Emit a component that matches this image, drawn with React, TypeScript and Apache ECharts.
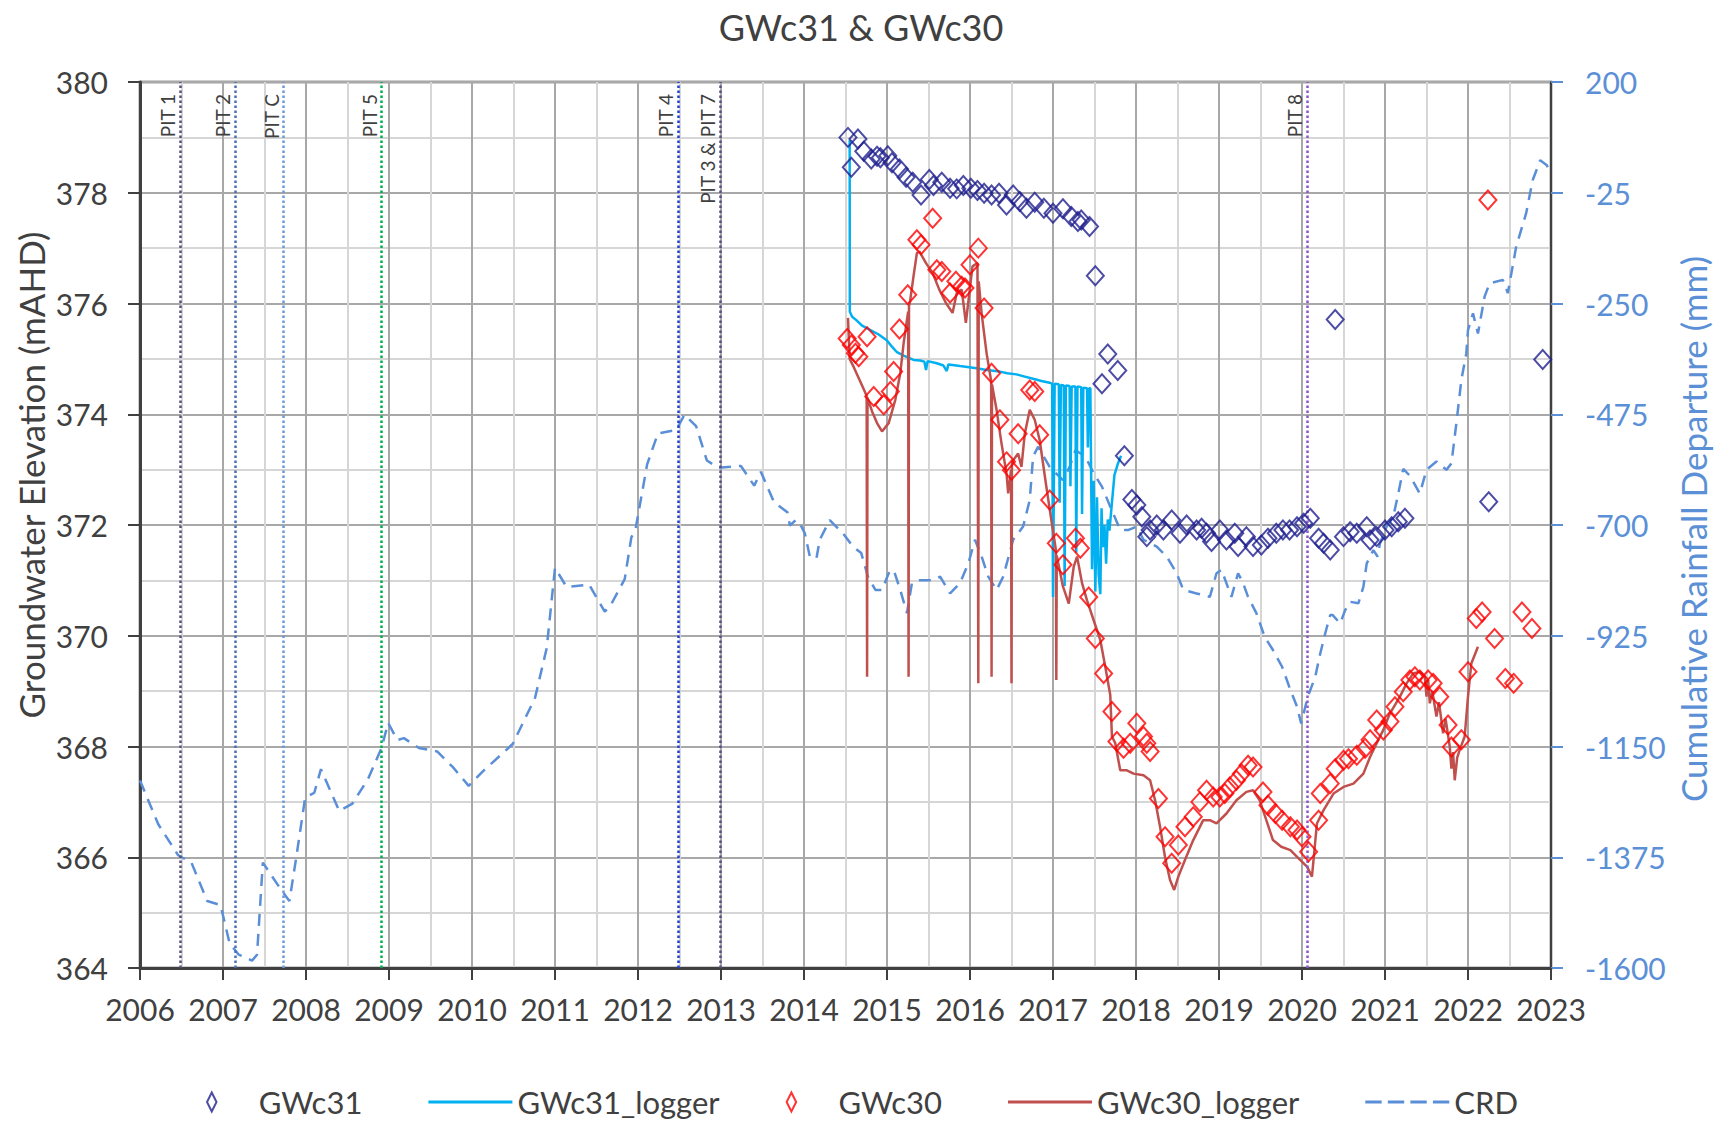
import React, { useEffect, useRef } from "react";
import * as echarts from "echarts";

const FONT = "Lato, 'Liberation Sans', sans-serif";

const seriesNames = ["GWc31", "GWc31_logger", "GWc30", "GWc30_logger", "CRD"];

// [decimal year, elevation mAHD]
const gwc31: [number, number][] = [
  [2014.53, 379.0], [2014.57, 378.46], [2014.65, 378.97], [2014.72, 378.75], [2014.81, 378.61],
  [2014.88, 378.66], [2014.92, 378.63], [2015.01, 378.67], [2015.06, 378.54], [2015.15, 378.43],
  [2015.23, 378.28], [2015.31, 378.19], [2015.41, 377.96], [2015.51, 378.24], [2015.56, 378.13],
  [2015.66, 378.19], [2015.76, 378.08], [2015.84, 378.07], [2015.92, 378.13], [2016.01, 378.08],
  [2016.09, 378.04], [2016.17, 377.99], [2016.26, 377.96], [2016.35, 377.99], [2016.44, 377.78],
  [2016.52, 377.96], [2016.6, 377.84], [2016.68, 377.72], [2016.78, 377.83], [2016.89, 377.72],
  [2017.0, 377.63], [2017.12, 377.71], [2017.22, 377.57], [2017.3, 377.48], [2017.34, 377.51],
  [2017.44, 377.39], [2017.51, 376.5], [2017.59, 374.55], [2017.66, 375.09], [2017.78, 374.79],
  [2017.86, 373.25], [2017.95, 372.46], [2018.01, 372.36], [2018.07, 372.15], [2018.13, 371.79],
  [2018.17, 371.91], [2018.25, 372.0], [2018.33, 371.91], [2018.43, 372.09], [2018.53, 371.85],
  [2018.61, 372.0], [2018.73, 371.91], [2018.79, 371.94], [2018.85, 371.85], [2018.91, 371.7],
  [2019.01, 371.91], [2019.09, 371.73], [2019.19, 371.85], [2019.23, 371.61], [2019.33, 371.79],
  [2019.41, 371.61], [2019.51, 371.64], [2019.59, 371.76], [2019.69, 371.85], [2019.77, 371.91],
  [2019.85, 371.91], [2019.94, 371.97], [2020.02, 372.03], [2020.1, 372.12], [2020.2, 371.76],
  [2020.26, 371.67], [2020.34, 371.55], [2020.4, 375.71], [2020.5, 371.79], [2020.58, 371.88],
  [2020.66, 371.85], [2020.78, 371.97], [2020.82, 371.73], [2020.9, 371.79], [2021.0, 371.91],
  [2021.08, 371.97], [2021.16, 372.06], [2021.24, 372.12], [2022.25, 372.42], [2022.9, 374.99],
];

const gwc31Logger: [number, number][] = [
  [2014.55, 378.95], [2014.552, 375.85], [2014.58, 375.76], [2014.63, 375.7], [2014.7, 375.6],
  [2014.8, 375.52], [2014.9, 375.44], [2015.0, 375.33], [2015.06, 375.22], [2015.12, 375.12],
  [2015.2, 375.06], [2015.32, 374.98], [2015.4, 374.97], [2015.45, 374.95], [2015.47, 374.8],
  [2015.49, 374.96], [2015.6, 374.92], [2015.68, 374.88], [2015.72, 374.78], [2015.74, 374.9],
  [2015.88, 374.87], [2016.08, 374.83], [2016.2, 374.8], [2016.36, 374.77], [2016.45, 374.74],
  [2016.56, 374.72], [2016.66, 374.68], [2016.76, 374.64], [2016.86, 374.6], [2016.96, 374.57],
  [2016.99, 374.55], [2017.0, 370.7], [2017.02, 374.55], [2017.07, 374.54], [2017.08, 372.4],
  [2017.095, 374.53], [2017.13, 374.52], [2017.14, 370.9], [2017.155, 374.52], [2017.2, 374.51],
  [2017.21, 372.7], [2017.225, 374.5], [2017.27, 374.5], [2017.28, 371.5], [2017.295, 374.5],
  [2017.34, 374.49], [2017.35, 372.2], [2017.365, 374.48], [2017.41, 374.47], [2017.42, 373.4],
  [2017.435, 374.47], [2017.45, 374.47], [2017.47, 371.2], [2017.49, 372.8], [2017.51, 370.8],
  [2017.53, 372.5], [2017.55, 371.1], [2017.57, 370.75], [2017.585, 372.3], [2017.6, 371.6],
  [2017.62, 372.0], [2017.64, 371.3], [2017.66, 372.1], [2017.68, 371.9], [2017.71, 372.4],
  [2017.74, 372.9], [2017.78, 373.1], [2017.82, 373.25],
];

const gwc30: [number, number][] = [
  [2014.52, 375.37], [2014.57, 375.25], [2014.62, 375.1], [2014.66, 375.04], [2014.76, 375.4],
  [2014.84, 374.32], [2014.96, 374.17], [2015.04, 374.41], [2015.08, 374.77], [2015.15, 375.54],
  [2015.25, 376.16], [2015.36, 377.15], [2015.41, 377.06], [2015.55, 377.54], [2015.6, 376.61],
  [2015.66, 376.58], [2015.76, 376.19], [2015.83, 376.4], [2015.9, 376.31], [2015.94, 376.28],
  [2016.0, 376.7], [2016.1, 377.0], [2016.17, 375.92], [2016.26, 374.74], [2016.36, 373.9],
  [2016.44, 373.14], [2016.5, 372.99], [2016.58, 373.65], [2016.72, 374.44], [2016.78, 374.41],
  [2016.84, 373.63], [2016.96, 372.45], [2017.04, 371.67], [2017.12, 371.28], [2017.27, 371.76],
  [2017.33, 371.58], [2017.43, 370.7], [2017.51, 369.95], [2017.61, 369.32], [2017.71, 368.63],
  [2017.77, 368.09], [2017.85, 367.97], [2017.93, 368.06], [2018.01, 368.42], [2018.09, 368.18],
  [2018.13, 368.06], [2018.17, 367.91], [2018.27, 367.06], [2018.35, 366.37], [2018.43, 365.89],
  [2018.51, 366.22], [2018.59, 366.55], [2018.69, 366.73], [2018.77, 367.0], [2018.85, 367.21],
  [2018.93, 367.09], [2019.01, 367.09], [2019.07, 367.15], [2019.13, 367.27], [2019.21, 367.39],
  [2019.27, 367.51], [2019.35, 367.66], [2019.41, 367.63], [2019.53, 367.18], [2019.59, 366.94],
  [2019.68, 366.79], [2019.76, 366.67], [2019.86, 366.55], [2019.94, 366.49], [2020.0, 366.37],
  [2020.08, 366.1], [2020.2, 366.67], [2020.22, 367.15], [2020.34, 367.33], [2020.4, 367.6],
  [2020.5, 367.75], [2020.56, 367.78], [2020.66, 367.84], [2020.76, 367.97], [2020.82, 368.12],
  [2020.9, 368.48], [2020.98, 368.3], [2021.06, 368.45], [2021.12, 368.72], [2021.22, 368.99],
  [2021.3, 369.2], [2021.36, 369.26], [2021.42, 369.2], [2021.52, 369.2], [2021.58, 369.14],
  [2021.66, 368.9], [2021.76, 368.39], [2021.8, 367.99], [2021.92, 368.12], [2022.0, 369.35],
  [2022.1, 370.31], [2022.17, 370.43], [2022.24, 377.87], [2022.32, 369.95], [2022.45, 369.23],
  [2022.55, 369.14], [2022.65, 370.43], [2022.77, 370.13],
];

const gwc30Logger: [number, number][] = [
  [2014.53, 375.74], [2014.55, 375.0], [2014.6, 374.85], [2014.66, 374.65], [2014.72, 374.45],
  [2014.755, 374.33], [2014.76, 369.26], [2014.765, 374.3], [2014.82, 374.05], [2014.88, 373.84],
  [2014.94, 373.69], [2015.02, 373.84], [2015.1, 374.26], [2015.16, 374.74], [2015.2, 375.28],
  [2015.24, 375.7], [2015.255, 375.85], [2015.26, 369.26], [2015.265, 375.95], [2015.28, 376.06],
  [2015.32, 376.5], [2015.36, 376.91], [2015.39, 376.94], [2015.47, 376.73], [2015.55, 376.55],
  [2015.63, 376.25], [2015.71, 376.01], [2015.79, 375.83], [2015.84, 376.19], [2015.9, 376.25],
  [2015.95, 375.65], [2016.03, 376.67], [2016.09, 376.73], [2016.1, 369.14], [2016.105, 376.4],
  [2016.14, 375.82], [2016.2, 375.1], [2016.255, 374.6], [2016.26, 369.26], [2016.265, 374.54],
  [2016.32, 374.08], [2016.38, 373.47], [2016.44, 372.93], [2016.46, 372.57], [2016.495, 373.0],
  [2016.5, 369.14], [2016.505, 373.1], [2016.52, 373.17], [2016.58, 373.29], [2016.62, 373.05],
  [2016.66, 373.65], [2016.72, 374.08], [2016.78, 373.9], [2016.84, 373.53], [2016.92, 372.69],
  [2016.98, 372.09], [2017.035, 371.55], [2017.04, 369.2], [2017.045, 371.45], [2017.12, 370.89],
  [2017.19, 370.58], [2017.25, 371.25], [2017.29, 371.43], [2017.35, 370.95], [2017.41, 370.64],
  [2017.49, 370.28], [2017.57, 369.92], [2017.63, 369.44], [2017.69, 368.93], [2017.71, 368.18],
  [2017.75, 368.06], [2017.81, 367.57], [2017.89, 367.57], [2017.97, 367.51], [2018.09, 367.48],
  [2018.17, 367.39], [2018.23, 367.03], [2018.29, 366.55], [2018.35, 366.0], [2018.41, 365.59],
  [2018.46, 365.41], [2018.51, 365.65], [2018.59, 365.95], [2018.69, 366.31], [2018.81, 366.67],
  [2018.89, 366.67], [2018.97, 366.61], [2019.09, 366.79], [2019.21, 367.03], [2019.33, 367.18],
  [2019.41, 367.21], [2019.49, 367.03], [2019.57, 366.67], [2019.65, 366.31], [2019.75, 366.19],
  [2019.86, 366.13], [2019.98, 365.95], [2020.06, 365.83], [2020.12, 365.65], [2020.18, 366.61],
  [2020.26, 366.85], [2020.38, 367.15], [2020.5, 367.27], [2020.62, 367.33], [2020.74, 367.51],
  [2020.82, 367.81], [2020.9, 368.06], [2020.98, 368.3], [2021.06, 368.6], [2021.18, 368.9],
  [2021.26, 369.14], [2021.34, 369.32], [2021.42, 369.35], [2021.48, 369.26], [2021.5, 368.9],
  [2021.52, 369.2], [2021.54, 368.78], [2021.57, 369.0], [2021.62, 368.54], [2021.65, 368.8],
  [2021.7, 368.24], [2021.73, 368.5], [2021.78, 368.0], [2021.8, 367.6], [2021.82, 367.9],
  [2021.84, 367.39], [2021.87, 367.8], [2021.9, 367.94], [2021.96, 368.18], [2022.0, 368.9],
  [2022.04, 369.5], [2022.12, 369.8],
];

// [decimal year, cumulative rainfall departure mm]
const crd: [number, number][] = [
  [2006.0, -1219], [2006.22, -1308], [2006.46, -1371], [2006.62, -1386], [2006.81, -1464],
  [2006.97, -1472], [2007.08, -1550], [2007.19, -1573], [2007.35, -1585], [2007.41, -1573],
  [2007.48, -1386], [2007.7, -1441], [2007.8, -1464], [2007.88, -1378], [2007.99, -1254],
  [2008.1, -1244], [2008.18, -1196], [2008.4, -1281], [2008.56, -1266], [2008.75, -1215],
  [2008.91, -1153], [2008.99, -1102], [2009.1, -1137], [2009.18, -1133], [2009.36, -1153],
  [2009.58, -1160], [2009.77, -1192], [2009.96, -1230], [2010.14, -1199], [2010.49, -1145],
  [2010.76, -1051], [2010.9, -950], [2011.0, -787], [2011.14, -826], [2011.41, -821],
  [2011.6, -876], [2011.68, -860], [2011.84, -810], [2011.92, -725], [2011.97, -709],
  [2012.11, -577], [2012.24, -514], [2012.46, -507], [2012.56, -476], [2012.7, -499],
  [2012.83, -569], [2012.97, -584], [2013.24, -580], [2013.4, -620], [2013.48, -592],
  [2013.64, -654], [2013.8, -674], [2013.83, -701], [2013.9, -690], [2013.95, -697],
  [2014.01, -717], [2014.07, -764], [2014.15, -768], [2014.19, -730], [2014.31, -690],
  [2014.47, -717], [2014.59, -744], [2014.69, -757], [2014.77, -805], [2014.86, -832],
  [2014.94, -832], [2015.02, -798], [2015.08, -791], [2015.16, -832], [2015.24, -879],
  [2015.3, -818], [2015.4, -812], [2015.56, -812], [2015.64, -805], [2015.76, -839],
  [2015.88, -818], [2015.98, -778], [2016.06, -730], [2016.14, -764], [2016.22, -805],
  [2016.32, -832], [2016.4, -805], [2016.52, -730], [2016.64, -703], [2016.72, -649],
  [2016.76, -561], [2016.82, -541], [2016.96, -582], [2017.12, -609], [2017.2, -582],
  [2017.27, -548], [2017.39, -561], [2017.49, -595], [2017.59, -622], [2017.69, -663],
  [2017.81, -710], [2017.91, -710], [2018.01, -703], [2018.09, -730], [2018.25, -744],
  [2018.37, -764], [2018.49, -798], [2018.57, -832], [2018.73, -839], [2018.89, -846],
  [2018.97, -798], [2019.03, -791], [2019.15, -846], [2019.23, -798], [2019.29, -818],
  [2019.35, -846], [2019.45, -879], [2019.55, -927], [2019.65, -954], [2019.76, -988],
  [2019.86, -1035], [2019.94, -1069], [2019.99, -1103], [2020.07, -1049], [2020.16, -1008],
  [2020.22, -961], [2020.28, -920], [2020.34, -883], [2020.37, -883], [2020.46, -900],
  [2020.52, -873], [2020.58, -856], [2020.68, -859], [2020.74, -825], [2020.78, -778],
  [2020.86, -751], [2020.91, -764], [2020.94, -737], [2021.02, -703], [2021.1, -683],
  [2021.16, -636], [2021.22, -586], [2021.3, -600], [2021.42, -636], [2021.5, -588],
  [2021.62, -571], [2021.74, -588], [2021.8, -575], [2021.86, -493], [2021.92, -405],
  [2021.98, -351], [2022.0, -304], [2022.06, -270], [2022.12, -311], [2022.2, -236],
  [2022.26, -209], [2022.42, -202], [2022.48, -229], [2022.58, -135], [2022.7, -67],
  [2022.78, 1], [2022.87, 41], [2022.95, 31], [2022.99, 14],
];

// vertical event markers
const pitNames = ["PIT 1", "PIT 2", "PIT C", "PIT 5", "PIT 4", "PIT 3 & PIT 7", "PIT 8"];
const pitYears = [2006.48, 2007.15, 2007.73, 2008.91, 2012.48, 2012.99, 2020.06];
const pitColors = ["#5b4f78", "#4a6fb5", "#6a9ad8", "#00b050", "#1f3fd0", "#5d4f86", "#8e55c8"];

// right axis: -1600..200 mm, drawn on a 0..1800 scale
const CRD_MIN = -1600;

const DARK = "#404040";
const BLUE_AXIS = "#5b8fd6";
const NAVY = "#1f1f8f";
const RED = "#ff0000";
const LOGGER31 = "#00b0f0";
const LOGGER30 = "#c0504d";
const CRD_COLOR = "#5a8fd8";

export default function App() {
  const ref = useRef<HTMLDivElement>(null);
  useEffect(() => {
    const chart = echarts.init(ref.current!, null, { renderer: "svg" });
    const diamondIcon = "path://M5,0 L10,10 L5,20 L0,10 Z";
    const solidIcon = "path://M0,0 H84 V3 H0 Z";
    const dashedIcon = "path://M0,0H16V3H0Z M22,0H38V3H22Z M44,0H60V3H44Z M66,0H82V3H66Z";
    chart.setOption({
      animation: false,
      backgroundColor: "#ffffff",
      title: {
        text: "GWc31 & GWc30",
        left: 856,
        textAlign: "center",
        top: 4,
        textStyle: { fontFamily: FONT, fontSize: 36, fontWeight: "normal", color: DARK },
      },
      legend: {
        data: [
          { name: seriesNames[0], icon: diamondIcon },
          { name: seriesNames[1], icon: solidIcon, itemStyle: { color: LOGGER31 } },
          { name: seriesNames[2], icon: diamondIcon },
          { name: seriesNames[3], icon: solidIcon, itemStyle: { color: LOGGER30 } },
          { name: seriesNames[4], icon: dashedIcon, itemStyle: { color: CRD_COLOR } },
        ],
        left: "center",
        top: 1080,
        itemWidth: 84,
        itemHeight: 19,
        itemGap: 66,
        textStyle: { fontFamily: FONT, fontSize: 31, color: DARK, lineHeight: 34 },
      },
      grid: {
        left: 140,
        right: 173,
        top: 82,
        bottom: 160,
        show: true,
        borderColor: DARK,
        borderWidth: 2.5,
        backgroundColor: "transparent",
      },
      xAxis: {
        type: "value",
        min: 2006,
        max: 2023,
        interval: 1,
        axisLine: { show: true, onZero: false, lineStyle: { color: DARK, width: 3 } },
        axisTick: { show: true, length: 12, lineStyle: { color: DARK, width: 2 } },
        axisLabel: {
          color: DARK,
          fontSize: 30,
          fontFamily: FONT,
          margin: 26,
          formatter: (v: number) => String(Math.round(v)),
        },
        splitLine: { show: true, lineStyle: { color: "#a8a8a8", width: 2 } },
        minorTick: { show: false, splitNumber: 2 },
        minorSplitLine: { show: true, lineStyle: { color: "#d6d6d6", width: 2 } },
      },
      yAxis: [
        {
          type: "value",
          min: 364,
          max: 380,
          interval: 2,
          position: "left",
          axisLine: { show: true, onZero: false, lineStyle: { color: DARK, width: 3 } },
          axisTick: { show: true, length: 12, lineStyle: { color: DARK, width: 2 } },
          axisLabel: { color: DARK, fontSize: 30, fontFamily: FONT, margin: 32 },
          splitLine: { show: true, lineStyle: { color: "#a8a8a8", width: 2 } },
          minorTick: { show: false, splitNumber: 2 },
          minorSplitLine: { show: true, lineStyle: { color: "#d6d6d6", width: 2 } },
        },
        {
          type: "value",
          min: 0,
          max: 1800,
          interval: 225,
          position: "right",
          axisLine: { show: true, onZero: false, lineStyle: { color: DARK, width: 2 } },
          axisTick: { show: true, length: 12, lineStyle: { color: BLUE_AXIS, width: 2 } },
          axisLabel: {
            color: BLUE_AXIS,
            fontSize: 30,
            fontFamily: FONT,
            margin: 34,
            formatter: (v: number) => String(v + CRD_MIN),
          },
          splitLine: { show: false },
        },
      ],
      graphic: [
        {
          type: "text",
          x: 31,
          y: 475,
          rotation: Math.PI / 2,
          style: {
            text: "Groundwater Elevation (mAHD)",
            fontFamily: FONT,
            fontSize: 35,
            fill: DARK,
            align: "center",
            verticalAlign: "middle",
          },
        },
        {
          type: "text",
          x: 1693,
          y: 529,
          rotation: Math.PI / 2,
          style: {
            text: "Cumulative Rainfall Departure (mm)",
            fontFamily: FONT,
            fontSize: 35,
            fill: BLUE_AXIS,
            align: "center",
            verticalAlign: "middle",
          },
        },
      ],
      series: [
        {
          name: "PIT",
          type: "line",
          data: [],
          z: 1,
          markLine: {
            silent: true,
            symbol: ["none", "none"],
            animation: false,
            data: pitYears.map((yr, i) => ({
              xAxis: yr,
              lineStyle: { color: pitColors[i], type: "dotted", width: 2.5 },
              label: {
                show: true,
                formatter: pitNames[i],
                position: "insideEndTop",
                distance: [12, 3],
                color: DARK,
                fontSize: 19,
                fontFamily: FONT,
              },
            })),
          },
        },
        {
          name: "CRD",
          type: "line",
          yAxisIndex: 1,
          data: crd.map(([x, v]) => [x, v - CRD_MIN]),
          showSymbol: false,
          symbol: "none",
          color: CRD_COLOR,
          lineStyle: { color: CRD_COLOR, width: 2.5, type: [12, 8] },
          z: 2,
        },
        {
          name: "GWc31_logger",
          type: "line",
          data: gwc31Logger,
          showSymbol: false,
          symbol: "none",
          color: LOGGER31,
          lineStyle: { color: LOGGER31, width: 2.5 },
          z: 3,
        },
        {
          name: "GWc30_logger",
          type: "line",
          data: gwc30Logger,
          showSymbol: false,
          symbol: "none",
          color: LOGGER30,
          lineStyle: { color: LOGGER30, width: 2.5 },
          z: 3,
        },
        {
          name: "GWc31",
          type: "scatter",
          data: gwc31,
          symbol: "diamond",
          symbolSize: [17, 19],
          itemStyle: { color: "rgba(255,255,255,0)", borderColor: NAVY, borderWidth: 2 },
          z: 5,
        },
        {
          name: "GWc30",
          type: "scatter",
          data: gwc30,
          symbol: "diamond",
          symbolSize: [17, 19],
          itemStyle: { color: "rgba(255,255,255,0)", borderColor: RED, borderWidth: 2 },
          z: 5,
        },
      ],
    });
    return () => chart.dispose();
  }, []);
  return (
    <div
      ref={ref}
      style={{ position: "fixed", left: 0, top: 0, width: 1724, height: 1128 }}
    />
  );
}
